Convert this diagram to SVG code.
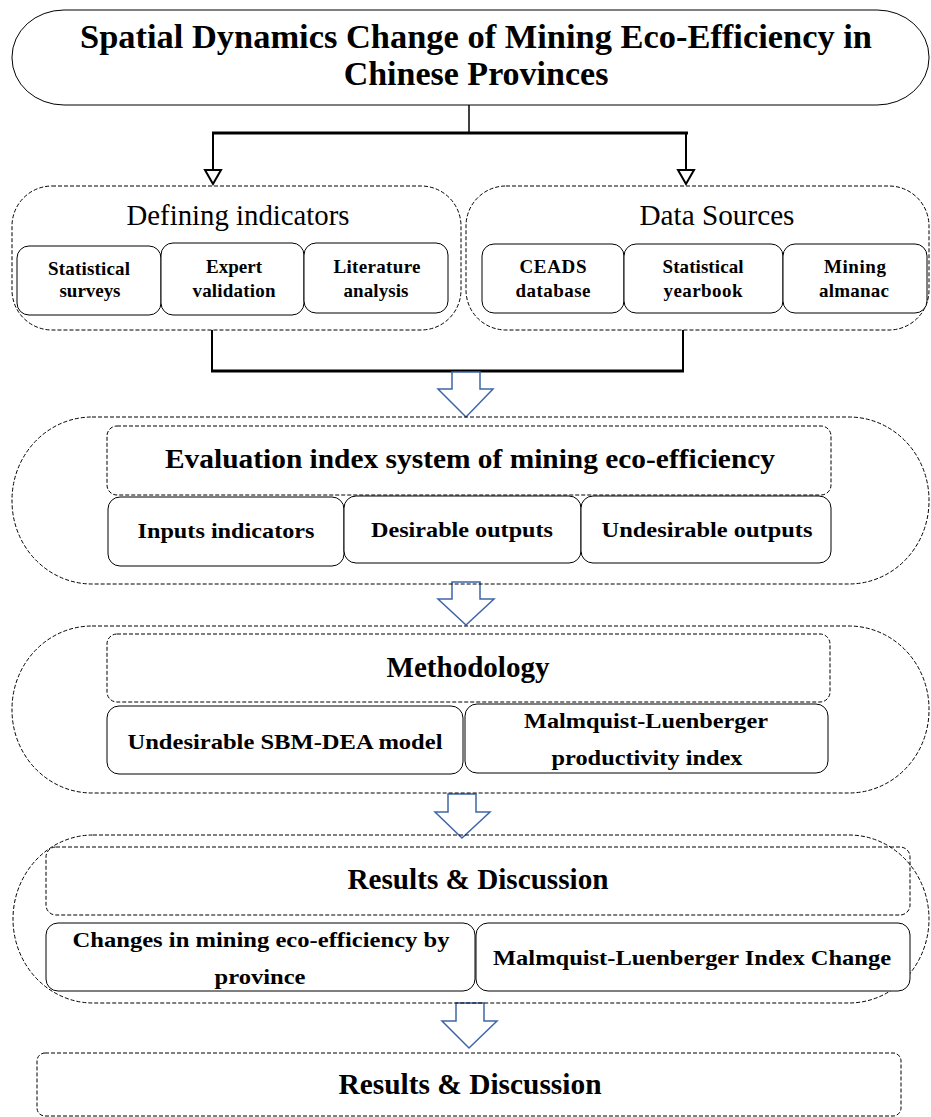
<svg xmlns="http://www.w3.org/2000/svg" width="931" height="1117" viewBox="0 0 931 1117">
<defs>
<style>
.dash{fill:none;stroke:#000;stroke-width:1;stroke-dasharray:4 2}
.box{fill:#fff;stroke:#000;stroke-width:1}
.t{font-weight:bold;fill:#000;text-anchor:middle}
.r{fill:#000;text-anchor:middle}
.blk{fill:#fff;stroke:#3F65A8;stroke-width:1.5;stroke-linejoin:miter}
.ln{fill:none;stroke:#000}
.tri{fill:#fff;stroke:#000;stroke-width:2}
</style>
</defs>
<rect width="931" height="1117" fill="#fff"/>

<g id="connectors">
<line class="ln" x1="469" y1="105" x2="469" y2="133" stroke-width="1.5"/>
<line class="ln" x1="212" y1="133" x2="688" y2="133" stroke-width="3"/>
<line class="ln" x1="213" y1="133" x2="213" y2="170" stroke-width="2"/>
<line class="ln" x1="686" y1="133" x2="686" y2="170" stroke-width="2"/>
<polygon class="tri" points="205,170 221,170 213,184"/>
<polygon class="tri" points="678,170 694,170 686,184"/>
<line class="ln" x1="212" y1="330" x2="212" y2="371" stroke-width="2"/>
<line class="ln" x1="683" y1="330" x2="683" y2="371" stroke-width="2"/>
<line class="ln" x1="211" y1="371" x2="684" y2="371" stroke-width="3"/>
<polygon class="blk" points="452,372 480,372 480,389 493,389 466,417 438,389 452,389"/>
<polygon class="blk" points="452,582 480,582 480,599 494,599 466,625 438,599 452,599"/>
<polygon class="blk" points="448,794 476,794 476,812 490,812 462,838 435,812 448,812"/>
<polygon class="blk" points="456,1003 484,1003 484,1021 497,1021 469,1048 442,1021 456,1021"/>
</g>

<g font-family="'Liberation Serif', 'Times New Roman', serif">
<g id="title">
<rect x="12" y="10" width="917" height="95" rx="52" ry="47" fill="#fff" stroke="#000" stroke-width="1"/>
<text class="t" x="476" y="48" font-size="34" textLength="792" lengthAdjust="spacingAndGlyphs">Spatial Dynamics Change of Mining Eco-Efficiency in</text>
<text class="t" x="476" y="85" font-size="34">Chinese Provinces</text>
</g>

<g id="defining">
<rect class="dash" x="12" y="186" width="449" height="144" rx="40" ry="40"/>
<text class="r" x="238" y="225" font-size="29" textLength="223" lengthAdjust="spacingAndGlyphs">Defining indicators</text>
<g id="stat-surveys">
<rect class="box" x="17" y="246" width="144" height="69" rx="12"/>
<text class="t" x="89" y="275" font-size="19" textLength="82" lengthAdjust="spacing">Statistical</text>
<text class="t" x="90" y="297" font-size="19" textLength="61" lengthAdjust="spacing">surveys</text>
</g>
<g id="expert">
<rect class="box" x="161" y="243" width="143" height="72" rx="12"/>
<text class="t" x="234" y="273" font-size="19" textLength="56" lengthAdjust="spacing">Expert</text>
<text class="t" x="234" y="297" font-size="19" textLength="83" lengthAdjust="spacing">validation</text>
</g>
<g id="literature">
<rect class="box" x="304" y="243" width="144" height="70" rx="12"/>
<text class="t" x="377" y="273" font-size="19" textLength="87" lengthAdjust="spacing">Literature</text>
<text class="t" x="376" y="297" font-size="19" textLength="65" lengthAdjust="spacing">analysis</text>
</g>
</g>

<g id="datasources">
<rect class="dash" x="466" y="186" width="463" height="144" rx="40" ry="40"/>
<text class="r" x="717" y="225" font-size="29" textLength="155" lengthAdjust="spacingAndGlyphs">Data Sources</text>
<g id="ceads">
<rect class="box" x="482" y="244" width="142" height="69" rx="12"/>
<text class="t" x="553" y="273" font-size="19" textLength="67" lengthAdjust="spacing">CEADS</text>
<text class="t" x="553" y="297" font-size="19" textLength="75" lengthAdjust="spacing">database</text>
</g>
<g id="yearbook">
<rect class="box" x="624" y="244" width="159" height="69" rx="12"/>
<text class="t" x="703" y="273" font-size="19" textLength="81" lengthAdjust="spacing">Statistical</text>
<text class="t" x="703" y="297" font-size="19" textLength="79" lengthAdjust="spacing">yearbook</text>
</g>
<g id="almanac">
<rect class="box" x="783" y="244" width="144" height="69" rx="12"/>
<text class="t" x="855" y="273" font-size="19" textLength="62" lengthAdjust="spacing">Mining</text>
<text class="t" x="854" y="297" font-size="19" textLength="70" lengthAdjust="spacing">almanac</text>
</g>
</g>

<g id="evaluation">
<rect class="dash" x="12" y="417" width="917" height="167" rx="80" ry="83"/>
<g id="eval-title">
<rect class="dash" x="107" y="426" width="724" height="69" rx="10"/>
<text class="t" x="470" y="468" font-size="28" textLength="610" lengthAdjust="spacingAndGlyphs">Evaluation index system of mining eco-efficiency</text>
</g>
<g id="inputs">
<rect class="box" x="108" y="497" width="236" height="69" rx="12"/>
<text class="t" x="226" y="538" font-size="22" textLength="177" lengthAdjust="spacingAndGlyphs">Inputs indicators</text>
</g>
<g id="desirable">
<rect class="box" x="344" y="496" width="237" height="67" rx="12"/>
<text class="t" x="462" y="537" font-size="22" textLength="182" lengthAdjust="spacingAndGlyphs">Desirable outputs</text>
</g>
<g id="undesirable">
<rect class="box" x="581" y="496" width="250" height="67" rx="12"/>
<text class="t" x="707" y="537" font-size="22" textLength="211" lengthAdjust="spacingAndGlyphs">Undesirable outputs</text>
</g>
</g>

<g id="methodology">
<rect class="dash" x="12" y="626" width="917" height="167" rx="80" ry="83"/>
<g id="method-title">
<rect class="dash" x="107" y="634" width="723" height="68" rx="10"/>
<text class="t" x="468" y="677" font-size="29" textLength="163" lengthAdjust="spacingAndGlyphs">Methodology</text>
</g>
<g id="sbm">
<rect class="box" x="107" y="706" width="356" height="68" rx="12"/>
<text class="t" x="285" y="749" font-size="22" textLength="315" lengthAdjust="spacingAndGlyphs">Undesirable SBM-DEA model</text>
</g>
<g id="ml-index">
<rect class="box" x="465" y="704" width="363" height="69" rx="12"/>
<text class="t" x="646" y="728" font-size="22" textLength="244" lengthAdjust="spacingAndGlyphs">Malmquist-Luenberger</text>
<text class="t" x="647" y="765" font-size="22" textLength="191" lengthAdjust="spacingAndGlyphs">productivity index</text>
</g>
</g>

<g id="results">
<rect class="dash" x="13" y="835" width="916" height="168" rx="80" ry="84"/>
<g id="results-title">
<rect class="dash" x="46" y="847" width="864" height="68" rx="10"/>
<text class="t" x="478" y="889" font-size="29" textLength="261" lengthAdjust="spacingAndGlyphs">Results &amp; Discussion</text>
</g>
<g id="changes">
<rect class="box" x="46" y="923" width="429" height="68" rx="12"/>
<text class="t" x="261" y="947" font-size="22" textLength="377" lengthAdjust="spacingAndGlyphs">Changes in mining eco-efficiency by</text>
<text class="t" x="260" y="984" font-size="22" textLength="91" lengthAdjust="spacingAndGlyphs">province</text>
</g>
<g id="ml-change">
<rect class="box" x="476" y="923" width="434" height="68" rx="12"/>
<text class="t" x="692" y="965" font-size="22" textLength="398" lengthAdjust="spacingAndGlyphs">Malmquist-Luenberger Index Change</text>
</g>
</g>

<g id="final">
<rect class="dash" x="37" y="1053" width="864" height="63" rx="8"/>
<text class="t" x="470" y="1094" font-size="29" textLength="263" lengthAdjust="spacingAndGlyphs">Results &amp; Discussion</text>
</g>
</g>
</svg>
